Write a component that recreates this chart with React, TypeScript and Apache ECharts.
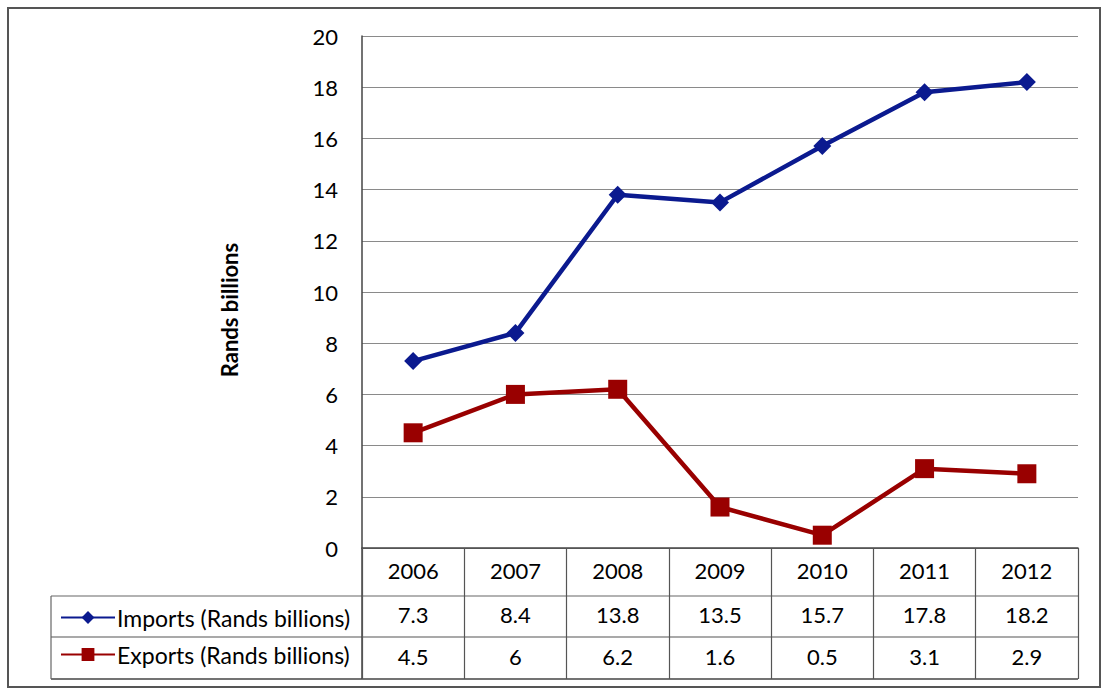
import React, { useEffect, useRef } from "react";
import * as echarts from "echarts";

const years = ["2006", "2007", "2008", "2009", "2010", "2011", "2012"];
const imports = [7.3, 8.4, 13.8, 13.5, 15.7, 17.8, 18.2];
const exportsData = [4.5, 6, 6.2, 1.6, 0.5, 3.1, 2.9];
const importsName = "Imports (Rands billions)";
const exportsName = "Exports (Rands billions)";
const yAxisName = "Rands billions";

const FONT = "Lato, 'Open Sans', sans-serif";
const GL = 362, GT = 36, GW = 716, GH = 512;

export default function App() {
  const ref = useRef<HTMLDivElement>(null);
  useEffect(() => {
    if (!ref.current) return;
    const chart = echarts.init(ref.current, null, { renderer: "svg" });
    const labelStyle = { fontSize: 22, color: "#000", fontFamily: FONT, margin: 11 };
    const bottom = GT + GH;
    chart.setOption({
      animation: false,
      backgroundColor: "#fff",
      grid: { left: GL, top: GT, width: GW, height: GH },
      legend: {
        orient: "vertical",
        left: 55,
        top: 601,
        itemWidth: 54,
        itemHeight: 16,
        itemGap: 14,
        textStyle: { fontSize: 23, color: "#000", fontFamily: FONT, padding: [0, 0, 0, -3] },
        data: [importsName, exportsName],
      },
      xAxis: [
        {
          type: "category",
          data: years,
          position: "bottom",
          axisLine: { lineStyle: { color: "#444", width: 1.5 } },
          axisTick: { show: true, interval: 0, length: 131, lineStyle: { color: "#555", width: 1.2 } },
          axisLabel: { ...labelStyle, interval: 0 },
        },
        {
          type: "category",
          data: imports.map(String),
          position: "bottom",
          offset: 44,
          axisLine: { show: false },
          axisTick: { show: false },
          axisLabel: { ...labelStyle, interval: 0 },
        },
        {
          type: "category",
          data: exportsData.map(String),
          position: "bottom",
          offset: 86,
          axisLine: { show: false },
          axisTick: { show: false },
          axisLabel: { ...labelStyle, interval: 0 },
        },
      ],
      yAxis: {
        type: "value",
        min: 0,
        max: 20,
        interval: 2,
        name: yAxisName,
        nameLocation: "middle",
        nameRotate: 90,
        nameGap: 122,
        nameTextStyle: {
          fontSize: 22,
          fontWeight: "bold",
          color: "#000",
          fontFamily: FONT,
          padding: [0, 36, 0, 0],
        },
        axisLine: { show: true, lineStyle: { color: "#444", width: 1.5 } },
        axisTick: { show: false },
        axisLabel: { fontSize: 22, color: "#000", fontFamily: FONT, margin: 24 },
        splitLine: { lineStyle: { color: "#8a8a8a", width: 1.2 } },
      },
      series: [
        {
          name: importsName,
          type: "line",
          data: imports,
          xAxisIndex: 0,
          symbol: "diamond",
          symbolSize: 18,
          lineStyle: { color: "#0b1a8f", width: 4.5 },
          itemStyle: { color: "#0b1a8f" },
        },
        {
          name: exportsName,
          type: "line",
          data: exportsData,
          xAxisIndex: 0,
          symbol: "rect",
          symbolSize: 19,
          lineStyle: { color: "#990000", width: 4.5 },
          itemStyle: { color: "#990000" },
        },
      ],
      graphic: [
        {
          type: "rect",
          shape: { x: 8, y: 8, width: 1092, height: 679 },
          style: { fill: "none", stroke: "#555", lineWidth: 2 },
          silent: true,
        },
        {
          type: "line",
          shape: { x1: 51, y1: 596, x2: GL + GW, y2: 596 },
          style: { stroke: "#666", lineWidth: 1.2 },
        },
        {
          type: "line",
          shape: { x1: 51, y1: 637, x2: GL + GW, y2: 637 },
          style: { stroke: "#555", lineWidth: 1.2 },
        },
        {
          type: "line",
          shape: { x1: 51, y1: 679, x2: GL + GW, y2: 679 },
          style: { stroke: "#444", lineWidth: 1.5 },
        },
        {
          type: "line",
          shape: { x1: 51, y1: 596, x2: 51, y2: 679 },
          style: { stroke: "#666", lineWidth: 1.2 },
        },
        {
          type: "line",
          shape: { x1: GL, y1: bottom, x2: GL, y2: 679 },
          style: { stroke: "#444", lineWidth: 1.5 },
        },
      ],
    });
    return () => chart.dispose();
  }, []);
  return (
    <div
      ref={ref}
      style={{ position: "fixed", left: 0, top: 0, width: 1103, height: 689 }}
    />
  );
}
